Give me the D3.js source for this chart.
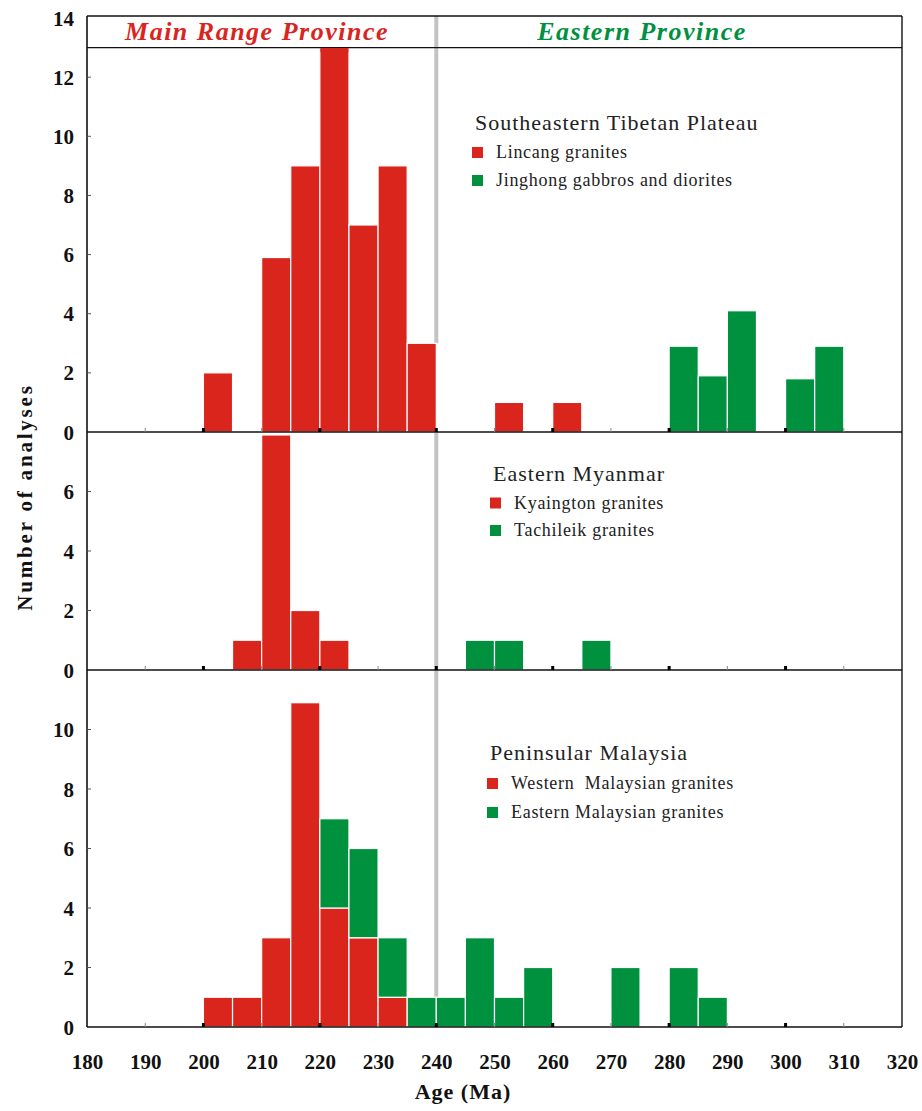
<!DOCTYPE html>
<html>
<head>
<meta charset="utf-8">
<script src="https://cdn.jsdelivr.net/npm/d3@7"></script>
<style>
  html, body { margin: 0; padding: 0; background: #fff; }
  svg { display: block; }
  text { font-family: "Liberation Serif", "Times New Roman", serif; }
</style>
</head>
<body>
<div id="chart"></div>
<script>
// Age bins (start of each 5 Ma bin) and number of analyses per bin
const lincangBins = [200, 210, 215, 220, 225, 230, 235, 250, 260];
const lincangCounts = [2, 5.9, 9, 13, 7, 9, 3, 1, 1];
const jinghongBins = [280, 285, 290, 300, 305];
const jinghongCounts = [2.9, 1.9, 4.1, 1.8, 2.9];

const kyaingtonBins = [205, 210, 215, 220];
const kyaingtonCounts = [1, 7.9, 2, 1];
const tachileikBins = [245, 250, 265];
const tachileikCounts = [1, 1, 1];

const westMalayBins = [200, 205, 210, 215, 220, 225, 230];
const westMalayCounts = [1, 1, 3, 10.9, 4, 3, 1];
const eastMalayBins = [220, 225, 230, 235, 240, 245, 250, 255, 270, 280, 285];
const eastMalayCounts = [3, 3, 2, 1, 1, 3, 1, 2, 2, 2, 1];

const binWidth = 5;
const ageTicks = [180, 190, 200, 210, 220, 230, 240, 250, 260, 270, 280, 290, 300, 310, 320];
const provinceBoundary = 240;
const headerLevel = 13;

const RED = "#da251d";
const GREEN = "#00913f";

const W = 922, H = 1111;
const left = 87, right = 902;
const frameTop = 16;

const svg = d3.select("#chart").append("svg")
  .attr("width", W).attr("height", H);

const x = d3.scaleLinear().domain([180, 320]).range([left, right]);

// Three stacked panels sharing one vertical unit size
const panels = [
  { name: "Southeastern Tibetan Plateau", max: 14, labelMax: 14, top: 18, bottom: 432, edge: frameTop,
    series: [
      { name: "Lincang granites", color: RED, bins: lincangBins, counts: lincangCounts },
      { name: "Jinghong gabbros and diorites", color: GREEN, bins: jinghongBins, counts: jinghongCounts }
    ],
    legend: { x: 475, y: 130, gap: 28 } },
  { name: "Eastern Myanmar", max: 8, labelMax: 6, top: 432, bottom: 670, edge: 432,
    series: [
      { name: "Kyaington granites", color: RED, bins: kyaingtonBins, counts: kyaingtonCounts },
      { name: "Tachileik granites", color: GREEN, bins: tachileikBins, counts: tachileikCounts }
    ],
    legend: { x: 493, y: 481, gap: 27.5 } },
  { name: "Peninsular Malaysia", max: 12, labelMax: 10, top: 670, bottom: 1027, edge: 670,
    series: [
      { name: "Western  Malaysian granites", color: RED, bins: westMalayBins, counts: westMalayCounts },
      { name: "Eastern Malaysian granites", color: GREEN, bins: eastMalayBins, counts: eastMalayCounts }
    ],
    legend: { x: 490, y: 760, gap: 29 } }
];

panels.forEach(p => {
  p.y = d3.scaleLinear().domain([0, p.max]).range([p.bottom, p.top]);
  // stack series: later series sit on top of earlier ones in the same bin
  const base = new Map();
  p.rects = [];
  p.series.forEach(s => {
    s.bins.forEach((b, i) => {
      const y0 = base.get(b) || 0;
      const y1 = y0 + s.counts[i];
      base.set(b, y1);
      p.rects.push({ bin: b, y0, y1, color: s.color });
    });
  });
  p.totals = base;
});

const firstPanel = panels[0];
const lastPanel = panels[panels.length - 1];

// Grey province boundary, drawn behind the bars
panels.forEach(p => {
  const h = Math.max(p.totals.get(provinceBoundary - binWidth) || 0, p.totals.get(provinceBoundary) || 0);
  svg.append("line")
    .attr("x1", x(provinceBoundary)).attr("x2", x(provinceBoundary))
    .attr("y1", p.edge).attr("y2", p.y(h))
    .attr("stroke", "#c3c3c3").attr("stroke-width", 4);
});

// Bars
panels.forEach(p => {
  svg.append("g").selectAll("rect").data(p.rects).join("rect")
    .attr("x", d => x(d.bin))
    .attr("width", d => x(d.bin + binWidth) - x(d.bin))
    .attr("y", d => p.y(d.y1))
    .attr("height", d => p.y(d.y0) - p.y(d.y1))
    .attr("fill", d => d.color)
    .attr("stroke", "#fff").attr("stroke-width", 1.2);
});

// Frame, panel separators and header line
const frame = svg.append("g").attr("fill", "none").attr("stroke", "#111");
frame.append("line").attr("x1", left).attr("x2", left).attr("y1", frameTop).attr("y2", lastPanel.bottom).attr("stroke-width", 1.6);
frame.append("line").attr("x1", right).attr("x2", right).attr("y1", frameTop).attr("y2", lastPanel.bottom).attr("stroke-width", 1.4);
frame.append("line").attr("x1", left).attr("x2", right).attr("y1", frameTop).attr("y2", frameTop).attr("stroke-width", 1.4);
frame.append("line").attr("x1", left).attr("x2", right)
  .attr("y1", firstPanel.y(headerLevel)).attr("y2", firstPanel.y(headerLevel)).attr("stroke-width", 1.2);
panels.forEach(p => {
  frame.append("line").attr("x1", left).attr("x2", right).attr("y1", p.bottom).attr("y2", p.bottom).attr("stroke-width", 1.6);
});
// tallest bar sits over the header line
svg.append("g").selectAll("rect")
  .data(firstPanel.rects.filter(d => d.y1 >= headerLevel)).join("rect")
  .attr("x", d => x(d.bin) + 0.6)
  .attr("width", d => x(d.bin + binWidth) - x(d.bin) - 1.2)
  .attr("y", d => firstPanel.y(d.y1) + 0.6)
  .attr("height", 4)
  .attr("fill", d => d.color);

// Age ticks on each panel's baseline: thick every 20 Ma, thin in between
panels.forEach(p => {
  const g = svg.append("g");
  ageTicks.filter(t => t > 180 && t < 320).forEach(t => {
    const major = (t - 180) % 20 === 0;
    g.append("rect")
      .attr("x", x(t) - (major ? 1.5 : 0.5))
      .attr("width", major ? 3 : 1)
      .attr("y", p.bottom - 4)
      .attr("height", 4)
      .attr("fill", major ? "#000" : "#888");
  });
});

// Count axis per panel
panels.forEach(p => {
  const ticks = d3.range(0, p.labelMax + 1, 2);
  const axis = d3.axisLeft(p.y).tickValues(ticks).tickSize(0).tickPadding(13).tickFormat(d3.format("d"));
  const g = svg.append("g").attr("transform", `translate(${left},0)`).call(axis);
  g.select(".domain").remove();
  g.selectAll("text")
    .attr("font-family", "Liberation Serif").attr("font-weight", "bold")
    .attr("font-size", 21).attr("fill", "#111").attr("dy", "0.34em");
  d3.range(2, p.max, 2).forEach(v => {
    svg.append("line").attr("x1", left).attr("x2", left + 4)
      .attr("y1", p.y(v)).attr("y2", p.y(v))
      .attr("stroke", "#555").attr("stroke-width", 1);
  });
});

// Age labels along the bottom
const xAxis = d3.axisBottom(x).tickValues(ageTicks).tickSize(0).tickPadding(27).tickFormat(d3.format("d"));
const xg = svg.append("g").attr("transform", `translate(0,${lastPanel.bottom})`).call(xAxis);
xg.select(".domain").remove();
xg.selectAll("text")
  .attr("font-family", "Liberation Serif").attr("font-weight", "bold")
  .attr("font-size", 21).attr("fill", "#111");

// Axis titles
svg.append("text")
  .attr("x", 463).attr("y", 1099)
  .attr("text-anchor", "middle")
  .attr("font-weight", "bold").attr("font-size", 22)
  .attr("letter-spacing", 1).attr("fill", "#111")
  .text("Age (Ma)");

svg.append("text")
  .attr("transform", "translate(32,497) rotate(-90)")
  .attr("text-anchor", "middle")
  .attr("font-weight", "bold").attr("font-size", 21)
  .attr("letter-spacing", 2.8).attr("fill", "#111")
  .text("Number of analyses");

// Province headers
svg.append("text")
  .attr("x", 257).attr("y", 40).attr("text-anchor", "middle")
  .attr("font-weight", "bold").attr("font-style", "italic")
  .attr("font-size", 26).attr("letter-spacing", 1.5).attr("fill", RED)
  .text("Main Range Province");
svg.append("text")
  .attr("x", 642).attr("y", 40).attr("text-anchor", "middle")
  .attr("font-weight", "bold").attr("font-style", "italic")
  .attr("font-size", 26).attr("letter-spacing", 1.5).attr("fill", GREEN)
  .text("Eastern Province");

// Legends
panels.forEach(p => {
  const L = p.legend;
  const g = svg.append("g");
  g.append("text")
    .attr("x", L.x).attr("y", L.y)
    .attr("font-size", 22).attr("letter-spacing", 1).attr("fill", "#222")
    .style("white-space", "pre")
    .text(p.name);
  p.series.forEach((s, i) => {
    const by = L.y + L.gap * (i + 1);
    g.append("rect")
      .attr("x", L.x - 3).attr("y", by - 11)
      .attr("width", 11).attr("height", 11)
      .attr("fill", s.color);
    g.append("text")
      .attr("x", L.x + 21).attr("y", by)
      .attr("font-size", 18).attr("letter-spacing", 0.7).attr("fill", "#222")
      .style("white-space", "pre")
      .text(s.name);
  });
});
</script>
</body>
</html>
